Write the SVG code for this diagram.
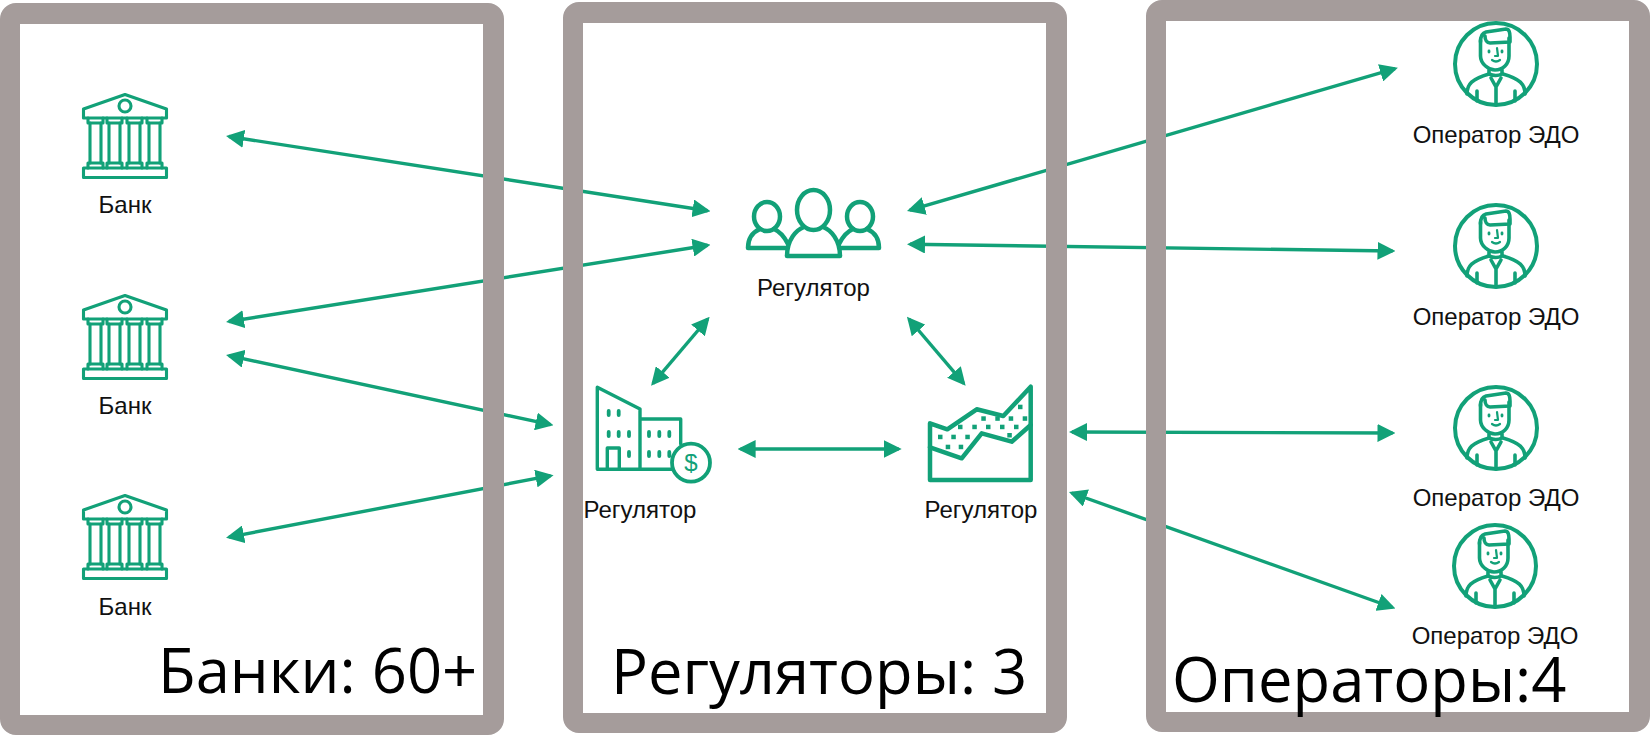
<svg xmlns="http://www.w3.org/2000/svg" width="1650" height="735" viewBox="0 0 1650 735">
<style>
.frame{fill:#a59c9b;fill-rule:evenodd}
.conn{stroke:#12a178;stroke-width:3.4;fill:none;marker-start:url(#head);marker-end:url(#head)}
.ic{fill:none;stroke:#12a178;stroke-width:3.4;stroke-linejoin:round;stroke-linecap:round}
.ict{fill:none;stroke:#12a178;stroke-width:4.5;stroke-linejoin:round;stroke-linecap:round}
.win{fill:none;stroke:#12a178;stroke-width:3.8;stroke-linecap:round}
.dot{fill:#12a178}
.lb{font-family:"Liberation Sans",Arial,sans-serif;font-size:24px;fill:#111;text-anchor:middle}
.big{font-family:"Open Sans","Noto Sans",sans-serif;font-size:61.5px;fill:#000}
</style>
<defs>
<marker id="head" markerUnits="userSpaceOnUse" markerWidth="18" markerHeight="18" viewBox="0 0 18 18" refX="15" refY="9" orient="auto-start-reverse"><path d="M0,0L18,9L0,18z" fill="#12a178"/></marker>
<g id="bank" class="ic" style="stroke-width:3.1">
<path d="M125,94.5L166.5,109V118H83.5V109Z"/>
<circle cx="125" cy="106" r="6"/>
<path d="M88,118V123H103V118M107,118V123H122V118M127,118V123H142V118M147,118V123H162V118"/>
<path d="M90,123V163M101,123V163M109,123V163M120,123V163M129,123V163M140,123V163M149,123V163M160,123V163"/>
<path d="M88,168V163H103V168M107,168V163H122V168M127,168V163H142V168M147,168V163H162V168"/>
<rect x="83.5" y="168" width="83" height="9.5"/>
</g>
<g id="person" class="ic" style="stroke-width:3.6">
<circle cx="0" cy="0" r="41" stroke-width="4"/>
<path d="M-15.5,-24V-8C-15.5,0 -7,6 -1,6C7,6 13,0 13,-8V-26"/>
<path d="M-15.5,-22C-15.5,-28 -14,-31 -10,-32L10,-35C13,-35 14,-32 14,-27V-22L-6,-21C-9,-21 -11,-24 -11,-28"/>
<path d="M1,-16L2,-8H-1M-4,-4Q0,-1 4,-4" stroke-width="2.2"/>
<path d="M-7,-13V-12M6,-13V-12" stroke-width="2.8"/>
<path d="M-7,6V10Q0,13 6,10V6"/>
<path d="M-5,14L0,23L5,14M0,23V41"/>
<path d="M-29,30C-29,20 -24,15 -7,10M29,30C29,20 24,15 7,10"/>
<path d="M-19,27V37M19,27V37"/>
</g>
</defs>
<rect width="1650" height="735" fill="#fff"/>
<g id="connectors">
<path class="conn" d="M229,136.5L707.6,210.7"/>
<path class="conn" d="M229,321.5L707.6,245.3"/>
<path class="conn" d="M229,355.6L550.6,424.6"/>
<path class="conn" d="M229,537.1L550.6,475.7"/>
<path class="conn" d="M707.7,319L653,383.4"/>
<path class="conn" d="M908.9,319L963.7,383.4"/>
<path class="conn" d="M740.6,449H898.7"/>
<path class="conn" d="M909.9,210.2L1395,68.6"/>
<path class="conn" d="M910,244.3L1392.5,251"/>
<path class="conn" d="M1072,432L1392.5,433"/>
<path class="conn" d="M1071.8,493L1392.6,607.5"/>
</g>
<g id="panel-banks"><path class="frame" d="M16,3H488A16,16 0 0 1 504,19V719A16,16 0 0 1 488,735H16A16,16 0 0 1 0,719V19A16,16 0 0 1 16,3ZM20,24V715H483V24Z"/></g>
<g id="panel-regulators"><path class="frame" d="M579,2H1051A16,16 0 0 1 1067,18V717A16,16 0 0 1 1051,733H579A16,16 0 0 1 563,717V18A16,16 0 0 1 579,2ZM583,23V713H1046V23Z"/></g>
<g id="panel-operators"><path class="frame" d="M1162,0H1634A16,16 0 0 1 1650,16V716A16,16 0 0 1 1634,732H1162A16,16 0 0 1 1146,716V16A16,16 0 0 1 1162,0ZM1166,21V712H1629V21Z"/></g>
<g id="bank-1"><use href="#bank"/><text class="lb" x="125" y="213">Банк</text></g>
<g id="bank-2"><use href="#bank" y="201"/><text class="lb" x="125" y="414">Банк</text></g>
<g id="bank-3"><use href="#bank" y="401"/><text class="lb" x="125" y="615">Банк</text></g>
<g id="regulator-people">
<g class="ict">
<ellipse cx="813.5" cy="210" rx="16.5" ry="20"/>
<ellipse cx="767" cy="216.5" rx="13" ry="14.5"/>
<ellipse cx="860" cy="216.5" rx="13" ry="14.5"/>
<path d="M787,256C787,240 796,230 804,227M840,256C840,240 831,230 823,227M787,256H840"/>
<path d="M748,248C748,238 753,232 760,229M774,229C781,232 785,238 788,244M879,248C879,238 874,232 867,229M853,229C846,232 842,238 839,244M748,248H787M840,248H879"/>
</g>
<text class="lb" x="813.5" y="296">Регулятор</text>
</g>
<g id="regulator-buildings">
<g class="ic">
<path d="M597.3,387.3L640,409V469.3H597.3ZM640,419H680.7V444M640,469.3H672"/>
<path d="M607.3,469V448H619.3V469"/>
<circle cx="691" cy="462.7" r="19" stroke-width="3.8"/>
</g>
<path class="win" d="M608.7,411V415M618.7,411V415M608.7,432V436M618.7,432V436M629,432V436M629,452V456M649,432V436M659.3,432V436M669.3,432V436M649,452V456M659.3,452V456M669.3,452V456"/>
<text x="691" y="471" font-family="Liberation Sans, Arial, sans-serif" font-size="24" fill="#12a178" text-anchor="middle">$</text>
<text class="lb" x="640" y="518">Регулятор</text>
</g>
<g id="regulator-chart">
<g class="ict">
<path d="M930,423.3L947.3,429.3L976.7,409.3L1003.3,416L1030.7,386.7V480H930Z"/>
<path d="M930,447.3L961.7,458.3L981.7,433.3L1011.7,441.7L1030.7,425"/>
</g>
<g class="dot">
<rect x="1018" y="404.7" width="4.5" height="4.5"/><rect x="981.3" y="416.3" width="4.5" height="4.5"/><rect x="995.3" y="416.3" width="4.5" height="4.5"/><rect x="1008.7" y="416.3" width="4.5" height="4.5"/><rect x="1022.7" y="416.3" width="4.5" height="4.5"/>
<rect x="958" y="424.7" width="4.5" height="4.5"/><rect x="972.3" y="424.7" width="4.5" height="4.5"/><rect x="986" y="424.7" width="4.5" height="4.5"/><rect x="1000" y="424.7" width="4.5" height="4.5"/><rect x="1014" y="424.7" width="4.5" height="4.5"/>
<rect x="938" y="434.7" width="4.5" height="4.5"/><rect x="951.3" y="434.7" width="4.5" height="4.5"/><rect x="965.3" y="434.7" width="4.5" height="4.5"/><rect x="1007.3" y="433" width="4.5" height="4.5"/>
<rect x="945.7" y="444.7" width="4.5" height="4.5"/><rect x="958.7" y="444.7" width="4.5" height="4.5"/>
</g>
<text class="lb" x="981" y="518">Регулятор</text>
</g>
<g id="operator-1"><use href="#person" x="1496" y="64"/><text class="lb" x="1496" y="143">Оператор ЭДО</text></g>
<g id="operator-2"><use href="#person" x="1496" y="246"/><text class="lb" x="1496" y="325">Оператор ЭДО</text></g>
<g id="operator-3"><use href="#person" x="1496" y="428"/><text class="lb" x="1496" y="506">Оператор ЭДО</text></g>
<g id="operator-4"><use href="#person" x="1495" y="566"/><text class="lb" x="1495" y="644">Оператор ЭДО</text></g>
<text class="big" x="158" y="693">Банки: 60+</text>
<text class="big" x="611" y="694">Регуляторы: 3</text>
<text class="big" x="1172" y="702">Операторы:4</text>
</svg>
